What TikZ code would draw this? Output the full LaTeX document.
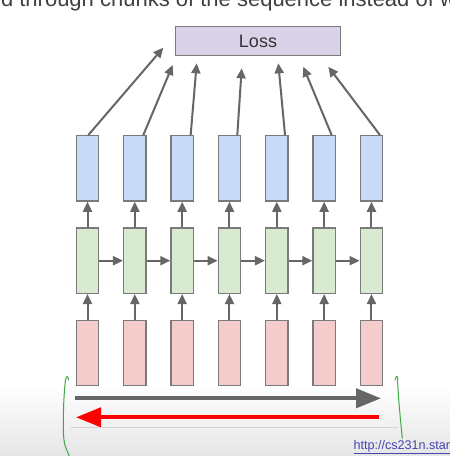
\documentclass[tikz,border=0pt]{standalone}
\usepackage{fontspec}
\setmainfont{Liberation Sans}
\usetikzlibrary{arrows.meta,calc}
\definecolor{bord}{HTML}{7A7A7A}
\definecolor{arrc}{HTML}{666666}
\definecolor{bluef}{HTML}{C9DAF8}
\definecolor{greenf}{HTML}{D9EAD3}
\definecolor{pinkf}{HTML}{F4CCCC}
\definecolor{lossf}{HTML}{D9D2E9}
\definecolor{penc}{HTML}{3DAA45}
\definecolor{linkc}{HTML}{4545B0}
\definecolor{faint}{HTML}{DDD0D2}
\definecolor{titlec}{HTML}{404040}
\begin{document}
\begin{tikzpicture}[x=1pt,y=-1pt,
  cell/.style={draw=bord,line width=1.3pt,minimum width=22.4pt,minimum height=65.4pt,inner sep=0pt},
  lossbox/.style={draw=bord,line width=1.3pt,fill=lossf,minimum width=165pt,minimum height=29pt,inner sep=0pt,font=\fontsize{18}{20}\selectfont,text=black!80},
  arr/.style={draw=arrc,line width=2pt,-{Triangle[length=10pt,width=9pt]}},
  bigarr/.style={line width=4pt,-{Triangle[length=25pt,width=19pt]}},
  pen/.style={draw=penc,line width=1pt,line cap=round}]
\useasboundingbox (0,0) rectangle (450,456);
\clip (0,0) rectangle (450,456);
\fill[white] (0,0) rectangle (450,456);
\shade[top color=white,bottom color=black!10] (0,385) rectangle (450,456);
% title (cut off)
\node[anchor=base west,inner sep=0pt,font=\fontsize{22}{26}\selectfont,text=titlec] (title) at (-6.5,6) {rd through chunks of the sequence instead of whole sequence};
% loss
\node[lossbox] (loss) at (258,41) {Loss};
% cells
\foreach \i in {1,...,7} {
  \pgfmathsetmacro\cx{87.5+47.33*(\i-1)}
  \node[cell,fill=bluef] (b\i) at (\cx,168.4) {};
  \node[cell,fill=greenf] (g\i) at (\cx,260.7) {};
  \node[cell,fill=pinkf] (p\i) at (\cx,353) {};
}
\foreach \i in {1,...,7} {
  \draw[arr] (p\i) -- (g\i);
  \draw[arr] (g\i) -- (b\i);
}
\foreach \i [evaluate=\i as \j using int(\i+1)] in {1,...,6} {
  \draw[arr] (g\i) -- (g\j);
}
% arrows to loss
\coordinate (t1) at (163.3,47.7);
\coordinate (t2) at (172.7,65);
\coordinate (t3) at (196.7,63.3);
\coordinate (t4) at (241.7,68.3);
\coordinate (t5) at (278.3,63.3);
\coordinate (t6) at (303.3,66.7);
\coordinate (t7) at (328.3,66.7);
\foreach \i/\o in {1/0.8,2/8.5,3/8.5,4/7.8,5/8.2,6/7.5,7/8.5} {
  \draw[arr] ($(b\i.north)+(\o,0)$) -- (t\i);
}
% forward / backward arrows
\coordinate (fa) at (75,398.3);
\coordinate (fb) at (381,398.3);
\coordinate (ra) at (379,417.3);
\coordinate (rb) at (76,417.3);
\draw[bigarr,draw=arrc,fill=arrc] (fa) -- (fb);
\draw[bigarr,draw=red,fill=red] (ra) -- (rb);
\draw[faint,line width=1pt] (70.7,427.3) -- (398,427.3);
% handwritten brackets
\draw[pen] (68.5,380) .. controls (68,376) and (66.5,375) .. (65.5,380) .. controls (63.5,395) and (62.5,430) .. (64,440) .. controls (65,448) and (68,452) .. (70,458);
\draw[pen] (395,380) .. controls (396,377) and (397,375) .. (397.5,377) .. controls (398,395) and (400,415) .. (402.3,438.3);
% link
\node[anchor=base west,inner sep=0pt,font=\fontsize{12.6}{14}\selectfont,text=linkc] (link) at (353.3,449.5) {\underline{http://cs231n.stanford.edu/}};
\end{tikzpicture}
\end{document}
